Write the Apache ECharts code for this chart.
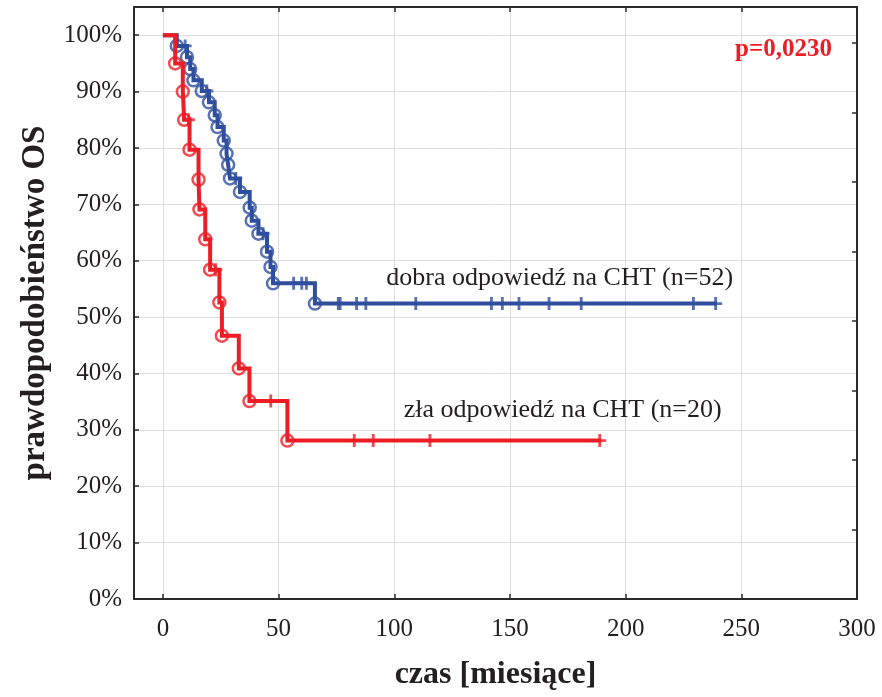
<!DOCTYPE html>
<html>
<head>
<meta charset="utf-8">
<script src="https://cdn.jsdelivr.net/npm/echarts@6/dist/echarts.min.js"></script>
<style>
html,body{margin:0;padding:0;background:#fff;}
#chart{width:882px;height:697px;}
</style>
</head>
<body>
<div id="chart"></div>
<script>
// ---- data (time in months, survival in %) ----
var xTicks = [0, 50, 100, 150, 200, 250, 300];
var yTicks = [0, 10, 20, 30, 40, 50, 60, 70, 80, 90, 100];

// "dobra odpowiedź" (n=52): event points [time, survival after drop]
var goodEvents = [
  [6.0, 98.1], [10.4, 96.1], [11.8, 94.0], [13.2, 92.0], [16.8, 90.1],
  [19.9, 88.1], [22.4, 85.8], [23.6, 83.7], [26.3, 81.3], [27.5, 79.0],
  [28.2, 77.0], [29.0, 74.6], [33.3, 72.2], [37.5, 69.4], [38.4, 67.1],
  [41.3, 64.8], [45.0, 61.6], [46.5, 58.9], [47.6, 56.0], [65.7, 52.4]
];
var goodCensored = [
  [9.6, 98.1], [19.0, 90.1], [31.5, 74.6], [43.3, 64.8],
  [56.5, 56.0], [60.0, 56.0], [62.0, 56.0],
  [75.8, 52.4], [76.6, 52.4], [83.7, 52.4], [87.7, 52.4], [109.3, 52.4],
  [142.0, 52.4], [146.7, 52.4], [153.9, 52.4], [166.9, 52.4], [180.8, 52.4],
  [229.3, 52.4], [238.9, 52.4]
];
var goodEnd = [239.5, 52.4];

// "zła odpowiedź" (n=20)
var badEvents = [
  [5.3, 95.0], [8.6, 90.0], [9.2, 85.0], [11.5, 79.7], [15.4, 74.4],
  [15.8, 69.1], [18.3, 63.8], [20.4, 58.4], [24.4, 52.6], [25.5, 46.7],
  [32.8, 40.9], [37.4, 35.1], [53.8, 28.1]
];
var badCensored = [
  [11.0, 85.0], [22.8, 58.4], [46.6, 35.1],
  [82.7, 28.1], [90.9, 28.1], [115.4, 28.1], [188.8, 28.1]
];
var badEnd = [189.5, 28.1];

var labelGood = 'dobra odpowiedź na CHT (n=52)';
var labelBad = 'zła odpowiedź na CHT (n=20)';
var pValue = 'p=0,0230';

// ---- styling ----
var BLUE = '#2F4F9E';
var RED = '#EE1D25';
var FONT = '"Liberation Serif", "Times New Roman", serif';
var AX = '#2a2a2a';
var PLUS = 'path://M3.9,0h2.2v3.9h3.9v2.2h-3.9v3.9h-2.2v-3.9h-3.9v-2.2h3.9z';

function curve(events, end) {
  return [[0, 100]].concat(events).concat([end]);
}

var chart = echarts.init(document.getElementById('chart'), null, {renderer: 'canvas'});

var option = {
  animation: false,
  backgroundColor: '#fff',
  grid: {left: 134, right: 25, top: 7, bottom: 98, containLabel: false},
  xAxis: [{
    type: 'value', min: -12.5, max: xTicks[xTicks.length - 1],
    minInterval: 50, maxInterval: 50,
    position: 'bottom',
    axisLine: {show: true, onZero: false, lineStyle: {color: AX, width: 2}},
    axisTick: {show: true, inside: true, length: 5, lineStyle: {color: AX, width: 1.5}},
    axisLabel: {show: true, showMinLabel: false, margin: 18, fontSize: 25, fontFamily: FONT, color: '#231f20'},
    splitLine: {show: true, lineStyle: {color: '#dcdcdc', width: 1}},
    name: 'czas [miesiące]', nameLocation: 'middle', nameGap: 60,
    nameTextStyle: {fontSize: 32, fontWeight: 'bold', fontFamily: FONT, color: '#231f20'}
  }, {
    type: 'value', min: -12.5, max: xTicks[xTicks.length - 1],
    minInterval: 50, maxInterval: 50,
    position: 'top',
    axisLine: {show: true, onZero: false, lineStyle: {color: AX, width: 2}},
    axisTick: {show: true, inside: true, length: 5, lineStyle: {color: AX, width: 1.5}},
    axisLabel: {show: false},
    splitLine: {show: false}
  }],
  yAxis: [{
    type: 'value', min: yTicks[0], max: 105, interval: 10,
    position: 'left',
    axisLine: {show: true, onZero: false, lineStyle: {color: AX, width: 2}},
    axisTick: {show: true, inside: true, length: 5, lineStyle: {color: AX, width: 1.5}},
    axisLabel: {show: true, showMaxLabel: false, margin: 12, fontSize: 25, fontFamily: FONT, color: '#231f20',
      formatter: function (v) { return yTicks.indexOf(v) >= 0 ? v + '%' : ''; }},
    splitLine: {show: true, lineStyle: {color: '#dcdcdc', width: 1}},
    name: 'prawdopodobieństwo OS', nameLocation: 'middle', nameGap: 82,
    nameTextStyle: {fontSize: 33, fontWeight: 'bold', fontFamily: FONT, color: '#231f20'}
  }, {
    type: 'value', min: 0, max: 592, minInterval: 69.5, maxInterval: 69.5,
    position: 'right',
    axisLine: {show: true, onZero: false, lineStyle: {color: AX, width: 2}},
    axisTick: {show: true, inside: true, length: 5, lineStyle: {color: AX, width: 1.5}},
    axisLabel: {show: false},
    splitLine: {show: false}
  }],
  series: [
    {
      name: 'good', type: 'line', step: 'end', data: curve(goodEvents, goodEnd),
      showSymbol: false, symbol: 'none', silent: true, z: 3,
      lineStyle: {color: BLUE, width: 4, cap: 'butt', join: 'miter'}
    },
    {
      name: 'goodEv', type: 'scatter', data: goodEvents, symbol: 'circle', symbolSize: 12, z: 4,
      itemStyle: {color: 'rgba(255,255,255,0)', borderColor: BLUE, borderWidth: 2.5}
    },
    {
      name: 'goodCens', type: 'scatter', data: goodCensored, symbol: PLUS, symbolSize: 13, z: 4,
      itemStyle: {color: BLUE}
    },
    {
      name: 'bad', type: 'line', step: 'end', data: curve(badEvents, badEnd),
      showSymbol: false, symbol: 'none', silent: true, z: 5,
      lineStyle: {color: RED, width: 4, cap: 'butt', join: 'miter'}
    },
    {
      name: 'badEv', type: 'scatter', data: badEvents, symbol: 'circle', symbolSize: 12, z: 6,
      itemStyle: {color: 'rgba(255,255,255,0)', borderColor: RED, borderWidth: 2.5}
    },
    {
      name: 'badCens', type: 'scatter', data: badCensored, symbol: PLUS, symbolSize: 13, z: 6,
      itemStyle: {color: RED}
    }
  ]
};
chart.setOption(option);

var pGood = chart.convertToPixel({xAxisIndex: 0, yAxisIndex: 0}, [171.5, 56.9]);
var pBad = chart.convertToPixel({xAxisIndex: 0, yAxisIndex: 0}, [172.8, 33.5]);
chart.setOption({
  graphic: [
    {type: 'text', x: pGood[0], y: pGood[1], z: 10,
      style: {text: labelGood, fontSize: 26, fontFamily: FONT, fill: '#231f20', align: 'center', verticalAlign: 'middle'}},
    {type: 'text', x: pBad[0], y: pBad[1], z: 10,
      style: {text: labelBad, fontSize: 26, fontFamily: FONT, fill: '#231f20', align: 'center', verticalAlign: 'middle'}},
    {type: 'text', x: 832, y: 50, z: 10,
      style: {text: pValue, fontSize: 25, fontWeight: 'bold', fontFamily: FONT, fill: RED, align: 'right', verticalAlign: 'middle'}}
  ]
});
</script>
</body>
</html>
